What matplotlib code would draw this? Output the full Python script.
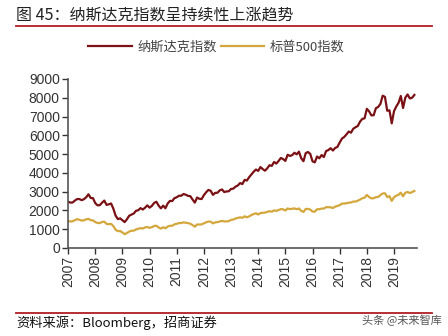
import matplotlib.pyplot as plt
import numpy as np

plt.rcParams['font.family'] = ['Liberation Sans', 'Noto Sans CJK SC', 'DejaVu Sans']

start_year = 2007
# monthly closes, Jan 2007 .. Oct 2019
nasdaq = [
    2460, 2416, 2421, 2525, 2605, 2603, 2546, 2596, 2701, 2859, 2661, 2652,
    2389, 2271, 2279, 2413, 2523, 2293, 2326, 2368, 2092, 1721, 1536, 1577,
    1476, 1377, 1529, 1717, 1774, 1835, 1979, 2009, 2122, 2045, 2145, 2269,
    2147, 2238, 2398, 2461, 2257, 2109, 2255, 2114, 2369, 2507, 2498, 2653,
    2700, 2782, 2781, 2874, 2835, 2774, 2756, 2579, 2415, 2684, 2620, 2605,
    2814, 2967, 3092, 3046, 2827, 2935, 2940, 3067, 3116, 2977, 3010, 3020,
    3142, 3160, 3268, 3329, 3456, 3403, 3626, 3590, 3771, 3920, 4060, 4177,
    4104, 4308, 4199, 4115, 4243, 4408, 4370, 4580, 4493, 4631, 4792, 4736,
    4635, 4964, 4901, 4941, 5070, 4987, 5128, 4777, 4620, 5054, 5109, 5007,
    4614, 4558, 4870, 4775, 4948, 4843, 5162, 5213, 5312, 5189, 5324, 5383,
    5615, 5825, 5912, 6048, 6199, 6140, 6348, 6429, 6496, 6728, 6874, 6903,
    7411, 7273, 7063, 7066, 7442, 7510, 7672, 8110, 8046, 7306, 7331, 6635,
    7282, 7533, 7729, 8095, 7453, 8006, 8175, 7963, 8000, 8150,
]
sp500 = [
    1438, 1407, 1421, 1482, 1531, 1503, 1455, 1474, 1527, 1549, 1481, 1468,
    1379, 1331, 1323, 1386, 1400, 1280, 1267, 1283, 1165, 969, 896, 903,
    826, 735, 798, 873, 919, 919, 987, 1021, 1057, 1036, 1096, 1115,
    1074, 1104, 1169, 1187, 1089, 1031, 1102, 1049, 1141, 1183, 1181, 1258,
    1286, 1327, 1326, 1364, 1345, 1321, 1292, 1219, 1131, 1253, 1247, 1258,
    1312, 1366, 1408, 1398, 1310, 1362, 1379, 1407, 1441, 1412, 1416, 1426,
    1498, 1515, 1569, 1598, 1631, 1606, 1686, 1633, 1682, 1757, 1806, 1848,
    1783, 1859, 1872, 1884, 1924, 1960, 1931, 2003, 1972, 2018, 2068, 2059,
    1995, 2105, 2068, 2086, 2107, 2063, 2104, 1972, 1920, 2079, 2080, 2044,
    1940, 1932, 2060, 2065, 2097, 2099, 2174, 2171, 2168, 2126, 2199, 2239,
    2279, 2364, 2363, 2384, 2412, 2423, 2470, 2472, 2519, 2575, 2648, 2674,
    2824, 2714, 2641, 2648, 2705, 2718, 2816, 2902, 2914, 2712, 2760, 2507,
    2704, 2784, 2834, 2946, 2752, 2942, 2980, 2926, 2977, 3037,
]
year_ticks = list(range(2007, 2020))
y_ticks = list(range(0, 9001, 1000))

t = start_year + np.arange(len(nasdaq)) / 12

fig = plt.figure(figsize=(4.48, 3.36), dpi=100)
ax = fig.add_axes([0.152, 0.262, 0.779, 0.503])

ax.plot(t, nasdaq, color="#7a1115", lw=1.6, label="纳斯达克指数")
ax.plot(t, sp500, color="#d4a73c", lw=1.6, label="标普500指数")

ax.set_xlim(2007, 2019.85)
ax.set_ylim(0, 9000)
ax.set_xticks(year_ticks)
ax.set_xticklabels([str(y) for y in year_ticks], rotation=90)
ax.set_yticks(y_ticks)
ax.tick_params(labelsize=10, colors="#333333", length=4, width=1, pad=2)
for s in ["top", "right"]:
    ax.spines[s].set_visible(False)
for s in ["left", "bottom"]:
    ax.spines[s].set_color("#555555")
    ax.spines[s].set_linewidth(1.2)

leg = fig.legend(*ax.get_legend_handles_labels(), loc="center", bbox_to_anchor=(0.483, 0.86),
                 ncol=2, frameon=False, prop={"family": ["Noto Sans CJK SC"], "size": 9.5},
                 handlelength=3.3, columnspacing=0.3, handletextpad=0.4)
for txt in leg.get_texts():
    txt.set_color("#444444")

fig.text(0.036, 0.955, "图 45：纳斯达克指数呈持续性上涨趋势", fontsize=11.5, color="#222222",
         family=["Noto Sans CJK SC"], va="center")
fig.add_artist(plt.Line2D([0.036, 0.964], [0.922, 0.922], color="#b01e23", lw=1.3))
fig.add_artist(plt.Line2D([0.036, 0.964], [0.068, 0.068], color="#b01e23", lw=1.3))
fig.text(0.036, 0.038, "资料来源：Bloomberg，招商证券", fontsize=9.5, color="#111111",
         family=["Noto Sans CJK SC"], va="center")
fig.text(0.985, 0.045, "头条 @未来智库", fontsize=8, color="#555555",
         family=["Noto Sans CJK SC"], va="center", ha="right")

fig.savefig("out.png", dpi=100)
